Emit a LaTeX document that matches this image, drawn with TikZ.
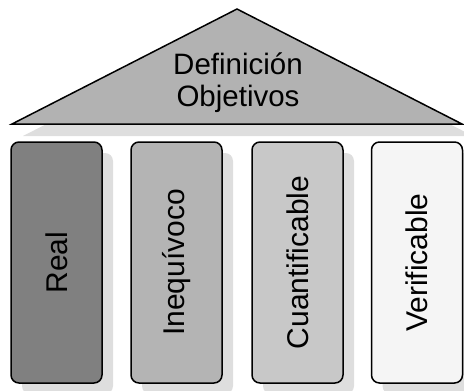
\documentclass[tikz,border=0pt]{standalone}
\usepackage{fontspec}
\setmainfont{Liberation Sans}
\definecolor{shadowgray}{HTML}{DEDEDE}
\definecolor{roofgray}{HTML}{B2B2B2}
\definecolor{realgray}{HTML}{808080}
\definecolor{inegray}{HTML}{B4B4B4}
\definecolor{cuangray}{HTML}{C8C8C8}
\definecolor{verigray}{HTML}{F5F5F5}
\tikzset{
	pillar/.style={draw=black, line width=1.5pt, rounded corners=8pt, rotate=90,
		minimum width=241pt, minimum height=91pt, inner sep=0pt,
		font=\fontsize{30}{33}\selectfont},
	roof/.style={align=center, font=\fontsize{29.5}{32}\selectfont}
}

\begin{document}
\begin{tikzpicture}[x=1pt, y=-1pt]
			%%%%% START %%%%%
			\clip (0, 0) rectangle (464, 391);
			
			% shadows
			\fill[shadowgray] (23, 136) -- (248, 21) -- (473, 136) -- cycle;
			\foreach \cx in {56.5, 176.5, 297.5, 417}
				\fill[shadowgray, rounded corners=8pt] ({\cx-34.5}, 153) rectangle ({\cx+56.5}, 394);
			
			% roof
			\draw[line width=1.5pt, fill=roofgray, line join=miter] (12, 124) -- (237, 9) -- (462, 124) -- cycle;
			\node[roof] (objetivos) at (238, 83) {Definición\\Objetivos};
			
			% pillars
			\node[pillar, fill=realgray] (real) at (56.5, 262.5) {Real};
			\node[pillar, fill=inegray] (inequivoco) at (176.5, 262.5) {Inequívoco};
			\node[pillar, fill=cuangray] (cuantificable) at (297.5, 262.5) {Cuantificable};
			\node[pillar, fill=verigray] (verificable) at (417, 262.5) {Verificable};
			
			%%%%% END %%%%%
\end{tikzpicture}
\end{document}
